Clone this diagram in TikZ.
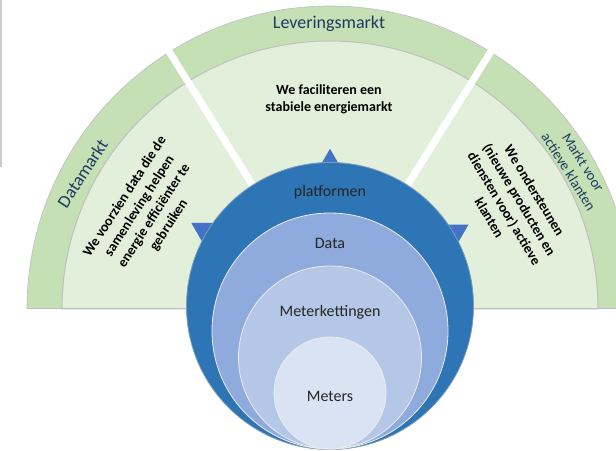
\documentclass[tikz,border=0pt]{standalone}
\usepackage{fontspec}
\setmainfont{Carlito}
\usetikzlibrary{shapes.geometric}
\definecolor{bandgreen}{HTML}{C5E0B4}
\definecolor{innergreen}{HTML}{E2EFDA}
\definecolor{edgegray}{HTML}{BFBFBF}
\definecolor{navy}{HTML}{1F3864}
\definecolor{platblue}{HTML}{2E75B6}
\definecolor{datablue}{HTML}{8FAADC}
\definecolor{chainblue}{HTML}{B4C7E7}
\definecolor{meterblue}{HTML}{DAE3F3}
\definecolor{triblue}{HTML}{4472C4}

\begin{document}
\begin{tikzpicture}[
  x=1pt,y=1pt,
  marketlbl/.style={text=navy,inner sep=0pt,align=center},
  goal/.style={font=\fontsize{14}{17.5}\selectfont\bfseries,align=center,inner sep=0pt},
  ring/.style={circle,draw=white!85!gray,line width=0.8pt,inner sep=0pt},
  ringlbl/.style={font=\fontsize{16}{19}\selectfont,text=black!85,anchor=base,inner sep=0pt},
  tri/.style={regular polygon,regular polygon sides=3,fill=triblue,inner sep=0pt,minimum size=25.4pt},
  gap/.style={white,line width=7pt},
]
\useasboundingbox (0,0) rectangle (616,450);
\clip (0,0) rectangle (616,450);
\draw[edgegray!80,line width=1.5pt] (1,450) -- (1,283);
\coordinate (hub) at (330,141);
\coordinate (core) at (330,144);
% ----- half disc with the three markets
\fill[bandgreen] (hub) ++(303,0) arc[start angle=0,end angle=180,radius=303] -- cycle;
\draw[edgegray,line width=0.6pt] (hub) ++(303,0) arc[start angle=0,end angle=180,radius=303];
\fill[innergreen,draw=edgegray,line width=1pt] (hub) ++(268,0) arc[start angle=0,end angle=180,radius=268] -- cycle;
\draw[edgegray,line width=1pt] (hub) ++(-303,0) -- ++(606,0);
\draw[gap] (hub) ++(58:110) -- ++(58:220);
\draw[gap] (hub) ++(122:110) -- ++(122:220);
% ----- market names
\node[marketlbl,font=\fontsize{18}{21}\selectfont,anchor=base] (lever) at (329,421) {Leveringsmarkt};
\node[marketlbl,font=\fontsize{18}{21}\selectfont,rotate=57] (datamkt) at (82.5,276.7) {Datamarkt};
\node[marketlbl,font=\fontsize{14.5}{17}\selectfont,rotate=-58] (klantmkt) at (576,283) {Markt voor\\actieve klanten};
% ----- what we do per market
\node[goal,font=\fontsize{14}{17}\selectfont\bfseries] (midgoal) at (329,351) {We faciliteren een\\stabiele energiemarkt};
\node[goal,rotate=57] (leftgoal) at (147,239) {We voorzien data die de\\samenleving helpen\\energie efficiënter te\\gebruiken};
\node[goal,rotate=-59] (rightgoal) at (512,246) {We ondersteunen\\(nieuwe producten en\\diensten voor) actieve\\klanten};
% ----- arrows out of the core
\node[tri,rotate=60] (toleft) at ([shift={(149:149)}]core) {};
\node[tri] (totop) at ([shift={(90:144.5)}]core) {};
\node[tri,rotate=-60] (toright) at ([shift={(30.5:148)}]core) {};
% ----- nested circles
\node[ring,fill=platblue,draw=platblue!80!black!60!white,minimum size=287pt] (plat) at (core) {};
\node[ring,fill=datablue,minimum size=236pt] (data) at (330,119) {};
\node[ring,fill=chainblue,minimum size=183pt] (chain) at (330,92.5) {};
\node[ring,fill=meterblue,minimum size=112pt] (meters) at (330,57) {};
\node[ringlbl] (platlbl) at (330,253) {platformen};
\node[ringlbl] (datalbl) at (330,201) {Data};
\node[ringlbl] (chainlbl) at (330,133) {Meterkettingen};
\node[ringlbl] (meterlbl) at (330,48) {Meters};
\end{tikzpicture}
\end{document}
